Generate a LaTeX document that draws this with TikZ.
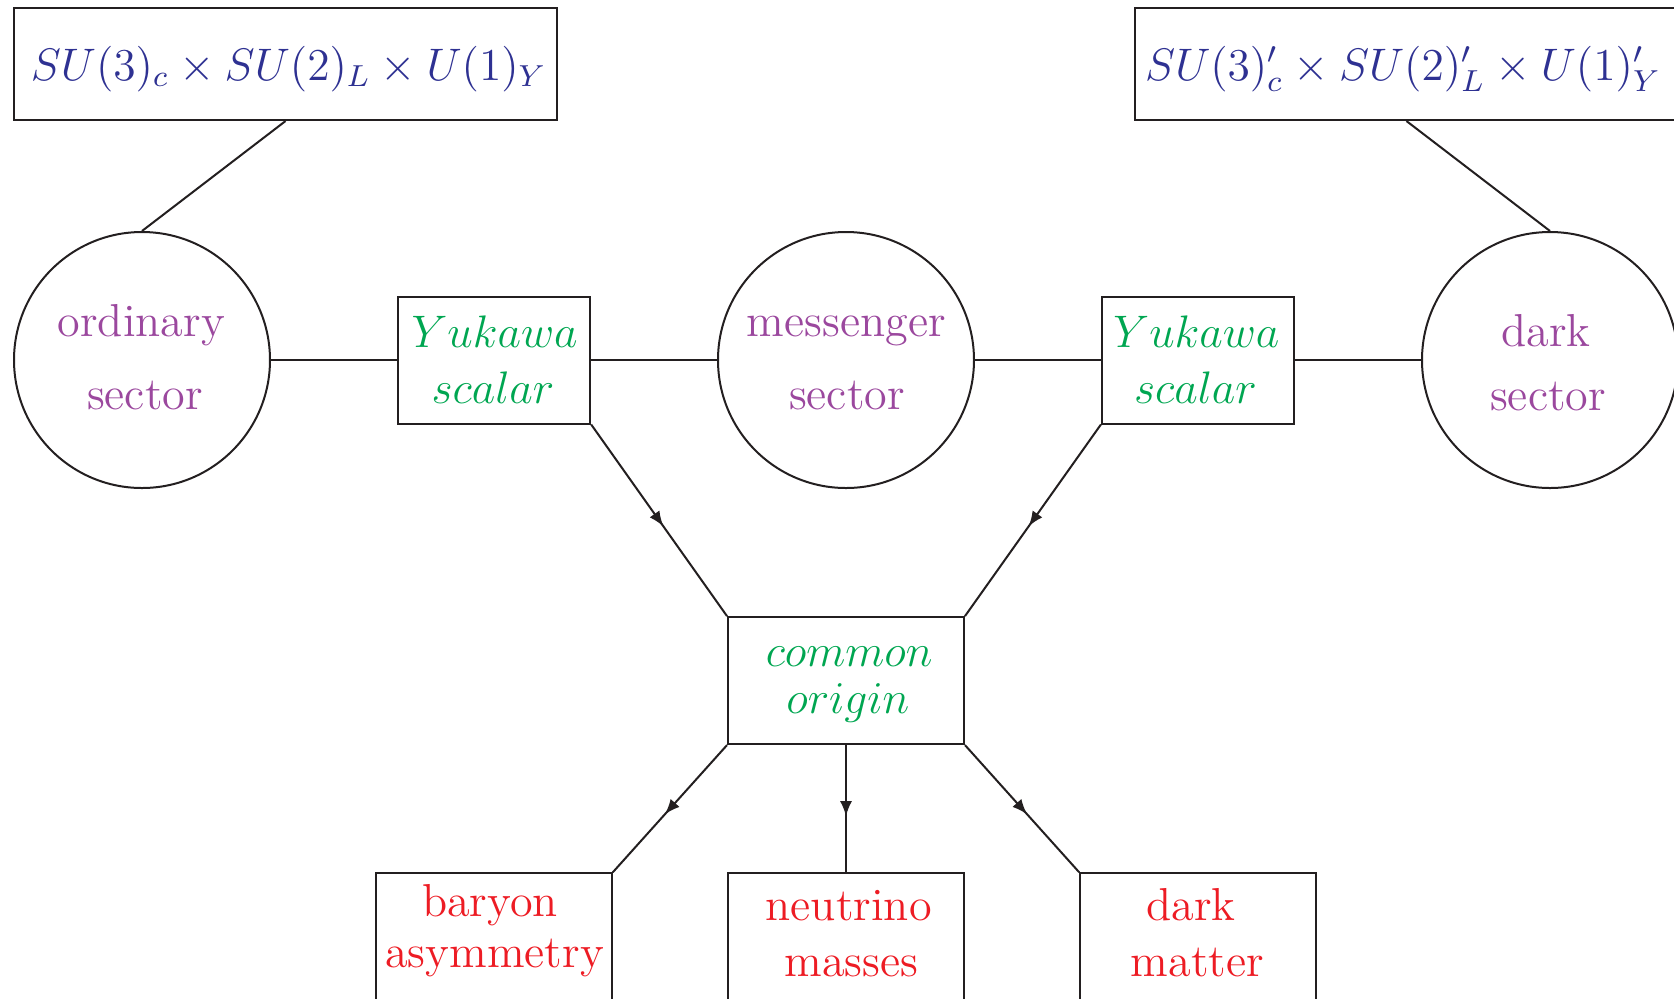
\documentclass[tikz,border=0pt]{standalone}
\usepackage{graphicx}
\usetikzlibrary{arrows.meta,decorations.markings}

\definecolor{gaugeblue}{RGB}{46,49,146}
\definecolor{sectorpurple}{RGB}{155,72,158}
\definecolor{scalargreen}{RGB}{0,166,81}
\definecolor{resultred}{RGB}{237,28,36}
\definecolor{ink}{RGB}{35,31,32}

% text sizes: roman labels slightly above 11pt, math labels slightly below 12pt
\newcommand{\romanlabel}[1]{\scalebox{1.05}{#1}}
\newcommand{\mathlabel}[1]{\scalebox{0.95}{$#1$}}

\tikzset{
  link/.style={draw=ink, line width=0.5pt},
  gaugebox/.style={draw=ink, line width=0.5pt, rectangle, inner sep=0pt,
    minimum width=135.75pt, minimum height=27.9pt},
  sectorcircle/.style={draw=ink, line width=0.5pt, circle, inner sep=0pt,
    minimum size=64pt},
  scalarbox/.style={draw=ink, line width=0.5pt, rectangle, inner sep=0pt,
    minimum width=48pt, minimum height=31.75pt},
  outbox/.style={draw=ink, line width=0.5pt, rectangle, inner sep=0pt,
    minimum width=59pt, minimum height=31.75pt},
  gaugetext/.style={anchor=base, inner sep=0pt, text=gaugeblue,
    font=\fontsize{12}{14}\selectfont},
  sectortext/.style={anchor=base, inner sep=0pt, text=sectorpurple,
    font=\fontsize{11}{13}\selectfont},
  scalartext/.style={anchor=base, inner sep=0pt, text=scalargreen,
    font=\fontsize{12}{14}\selectfont},
  resulttext/.style={anchor=base, inner sep=0pt, text=resultred,
    font=\fontsize{11}{13}\selectfont},
  midarrow/.style={postaction={decorate}, decoration={markings,
    mark=at position 0.5 with {\arrow[xshift=1.9pt,ink]{Latex[length=3.8pt,width=3pt]}}}}
}

\begin{document}
\begin{tikzpicture}[x=0.25pt, y=-0.25pt]
\useasboundingbox (0,0) rectangle (1674,998);
\clip (0,0) rectangle (1674,998);

% gauge groups of the two copies
\node[gaugebox] (smgroup) at (285.5,64.25) {};
\node[gaugebox] (darkgroup) at (1406.5,64.25) {};
\node[gaugetext] (smgrouptext) at (288.7,80) {\mathlabel{SU(3)_c\times SU(2)_L\times U(1)_Y}};
\node[gaugetext] (darkgrouptext) at (1403,80) {\mathlabel{SU(3)'_c\times SU(2)'_L\times U(1)'_Y}};

% the three sectors
\node[sectorcircle] (ordinary) at (142,360) {};
\node[sectorcircle] (messenger) at (846,360) {};
\node[sectorcircle] (dark) at (1550,360) {};
\node[sectortext] (ordinaryA) at (141.3,336.7) {\romanlabel{ordinary}};
\node[sectortext] (ordinaryB) at (145,409.3) {\romanlabel{sector}};
\node[sectortext] (messengerA) at (846.2,336.7) {\romanlabel{messenger}};
\node[sectortext] (messengerB) at (847,409.3) {\romanlabel{sector}};
\node[sectortext] (darkA) at (1546,346.7) {\romanlabel{dark}};
\node[sectortext] (darkB) at (1548,410) {\romanlabel{sector}};

% Yukawa scalars linking the sectors
\node[scalarbox] (yukL) at (494.2,360) {};
\node[scalarbox] (yukR) at (1197.9,360) {};
\node[scalartext] (yukLA) at (494.7,347) {\mathlabel{Yukawa}};
\node[scalartext] (yukLB) at (493,403.7) {\mathlabel{scalar}};
\node[scalartext] (yukRA) at (1196.5,347) {\mathlabel{Yukawa}};
\node[scalartext] (yukRB) at (1195.5,403.7) {\mathlabel{scalar}};

% common origin
\node[outbox] (origin) at (846,680.6) {};
\node[scalartext] (originA) at (849.2,666.3) {\mathlabel{common}};
\node[scalartext] (originB) at (847.8,713.7) {\mathlabel{origin}};

% consequences
\node[outbox] (baryon) at (493.8,936.8) {};
\node[outbox] (neutrino) at (846,936.8) {};
\node[outbox] (darkmatter) at (1198.2,936.8) {};
\node[resulttext] (baryonA) at (490,916.7) {\romanlabel{baryon}};
\node[resulttext] (baryonB) at (494.5,967.3) {\romanlabel{asymmetry}};
\node[resulttext] (neutrinoA) at (848.7,920) {\romanlabel{neutrino}};
\node[resulttext] (neutrinoB) at (851.4,976.7) {\romanlabel{masses}};
\node[resulttext] (darkmatterA) at (1191,920) {\romanlabel{dark}};
\node[resulttext] (darkmatterB) at (1197.3,976.7) {\romanlabel{matter}};

% connectors
\draw[link] (smgroup.south) -- (ordinary.north);
\draw[link] (darkgroup.south) -- (dark.north);
\draw[link] (ordinary.east) -- (yukL.west);
\draw[link] (yukL.east) -- (messenger.west);
\draw[link] (messenger.east) -- (yukR.west);
\draw[link] (yukR.east) -- (dark.west);
\draw[link, midarrow] (yukL.south east) -- (origin.north west);
\draw[link, midarrow] (yukR.south west) -- (origin.north east);
\draw[link, midarrow] (origin.south west) -- (baryon.north east);
\draw[link, midarrow] (origin.south) -- (neutrino.north);
\draw[link, midarrow] (origin.south east) -- (darkmatter.north west);
\end{tikzpicture}
\end{document}
